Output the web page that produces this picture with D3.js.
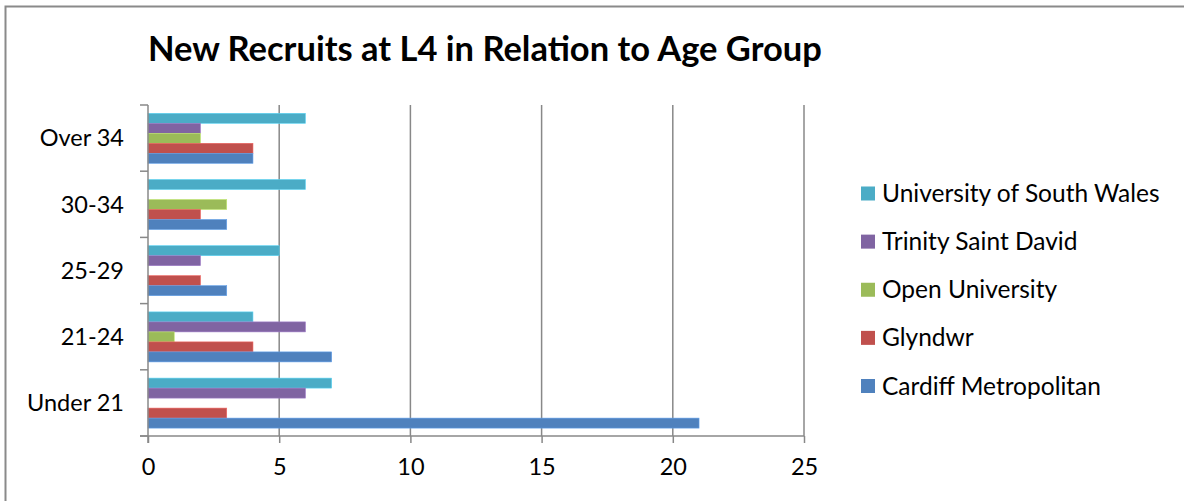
<!DOCTYPE html>
<html>
<head>
<meta charset="utf-8">
<script src="https://cdn.jsdelivr.net/npm/d3@7"></script>
<style>
  html, body { margin: 0; padding: 0; background: #fff; overflow: hidden; }
  svg { display: block; }
  text { font-family: Lato, "Open Sans", sans-serif; fill: #000; }
</style>
</head>
<body>
<svg id="chart" width="1184" height="501"></svg>
<script>
// Age groups, bottom to top on the chart
const categories = ["Under 21", "21-24", "25-29", "30-34", "Over 34"];
// Series in legend order (top to bottom within each group)
const seriesNames = ["University of South Wales", "Trinity Saint David", "Open University", "Glyndwr", "Cardiff Metropolitan"];
const seriesColors = ["#4BACC6", "#8064A2", "#9BBB59", "#C0504D", "#4F81BD"];
// Values per series, aligned with categories
const southWales = [7, 4, 5, 6, 6];
const trinity    = [6, 6, 2, 0, 2];
const openUni    = [0, 1, 0, 3, 2];
const glyndwr    = [3, 4, 2, 2, 4];
const cardiff    = [21, 7, 3, 3, 4];
const seriesValues = [southWales, trinity, openUni, glyndwr, cardiff];
const xTicks = [0, 5, 10, 15, 20, 25];
const title = "New Recruits at L4 in Relation to Age Group";

const svg = d3.select("#chart");
const gridColor = "#888888";

// Scale a text element's font so that it spans the given width
function fitWidth(sel, w) {
  const len = sel.node().getComputedTextLength();
  const fs = parseFloat(sel.attr("font-size"));
  sel.attr("font-size", fs * w / len);
}

// Outer chart frame (only left and top edges fall inside the view)
svg.append("rect")
  .attr("x", 5.5).attr("y", 6.5)
  .attr("width", 1400).attr("height", 700)
  .attr("fill", "none").attr("stroke", "#8a8a8a").attr("stroke-width", 2);

// Title
const titleText = svg.append("text")
  .attr("x", 148).attr("y", 61)
  .attr("font-weight", "bold")
  .attr("font-size", 29)
  .text(title);
fitWidth(titleText, 674);

const plot = { left: 148, right: 804, top: 105, bottom: 436 };

const x = d3.scaleLinear().domain([0, 25]).range([plot.left, plot.right]);
const y = d3.scaleBand()
  .domain(categories.slice().reverse())
  .range([plot.top, plot.bottom])
  .paddingInner(0).paddingOuter(0);
const inner = d3.scaleBand()
  .domain(seriesNames)
  .range([8.3, y.bandwidth() - 7.9])
  .padding(0);

// Vertical gridlines
svg.append("g")
  .selectAll("line")
  .data(xTicks.filter(d => d > 0))
  .join("line")
  .attr("x1", d => x(d)).attr("x2", d => x(d))
  .attr("y1", plot.top).attr("y2", plot.bottom)
  .attr("stroke", gridColor).attr("stroke-width", 1.5);

// Bars
const groups = svg.append("g")
  .selectAll("g")
  .data(categories)
  .join("g")
  .attr("transform", d => `translate(0,${y(d)})`);

groups.selectAll("rect")
  .data((c, ci) => seriesNames.map((s, si) => ({ s, si, v: seriesValues[si][ci] })))
  .join("rect")
  .filter(d => d.v > 0)
  .attr("x", x(0))
  .attr("y", d => inner(d.s))
  .attr("width", d => x(d.v) - x(0))
  .attr("height", inner.bandwidth())
  .attr("fill", d => seriesColors[d.si])
  .attr("stroke", d => d3.color(seriesColors[d.si]).brighter(0.6))
  .attr("stroke-width", 0.6);

// X axis
const xAxis = svg.append("g")
  .attr("transform", `translate(0,${plot.bottom})`)
  .call(d3.axisBottom(x).tickValues(xTicks).tickSize(7).tickPadding(15).tickSizeOuter(0));
xAxis.select(".domain").attr("stroke", gridColor).attr("stroke-width", 1.5)
  .attr("d", `M${plot.left - 8},0H${plot.right}`);
xAxis.selectAll(".tick line").attr("stroke", gridColor).attr("stroke-width", 1.5);
xAxis.selectAll(".tick text")
  .attr("font-family", "Lato, 'Open Sans', sans-serif")
  .attr("font-size", 23.5).attr("fill", "#000");

// Y axis: ticks sit on category boundaries
const yAxis = svg.append("g").attr("transform", `translate(${plot.left},0)`);
yAxis.append("line")
  .attr("x1", 0).attr("x2", 0)
  .attr("y1", plot.top).attr("y2", plot.bottom + 7)
  .attr("stroke", gridColor).attr("stroke-width", 1.5);
const boundaries = categories.slice().reverse().map(c => y(c)).concat([plot.bottom]);
yAxis.selectAll("line.b")
  .data(boundaries)
  .join("line").attr("class", "b")
  .attr("x1", -8).attr("x2", 0)
  .attr("y1", d => d).attr("y2", d => d)
  .attr("stroke", gridColor).attr("stroke-width", 1.5);
yAxis.selectAll("text")
  .data(categories)
  .join("text")
  .attr("x", -24)
  .attr("y", d => y(d) + y.bandwidth() / 2)
  .attr("dy", "0.35em")
  .attr("text-anchor", "end")
  .attr("font-size", 23.5)
  .text(d => d);

// Legend
const legend = svg.append("g").attr("transform", "translate(861,0)");
const legendY = d3.scalePoint().domain(seriesNames).range([193.5, 386]);
const items = legend.selectAll("g")
  .data(seriesNames)
  .join("g")
  .attr("transform", d => `translate(0,${legendY(d)})`);
items.append("rect")
  .attr("x", 0).attr("y", -7).attr("width", 14).attr("height", 14)
  .attr("fill", (d, i) => seriesColors[i]);
items.append("text")
  .attr("x", 21).attr("dy", "0.35em")
  .attr("font-size", 24.5)
  .text(d => d);
</script>
</body>
</html>
